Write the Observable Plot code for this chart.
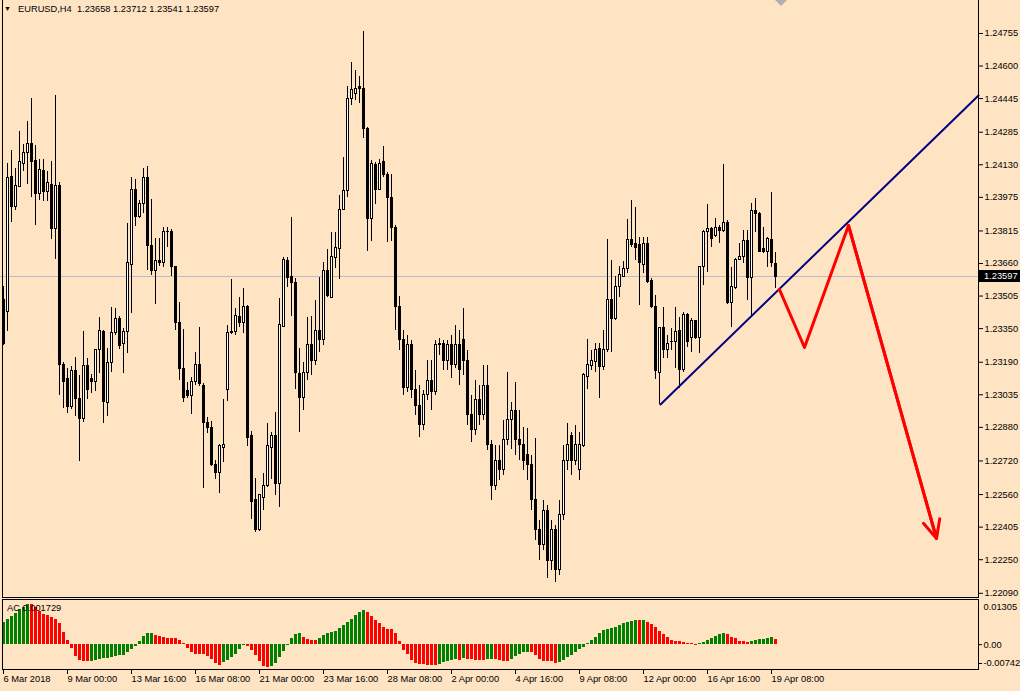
<!DOCTYPE html>
<html><head><meta charset="utf-8">
<script src="https://cdn.jsdelivr.net/npm/d3@7"></script>
<script src="https://cdn.jsdelivr.net/npm/@observablehq/plot@0.6"></script>
<style>
html,body{margin:0;padding:0;background:#FFE4C4;}
#wrap{position:relative;width:1020px;height:691px;overflow:hidden;background:#FFE4C4;font-family:"Liberation Sans",Arial,sans-serif;}
#main,#ind{position:absolute;left:0;}
#main{top:0px}
#ind{top:599px}
.lbl{position:absolute;font-size:9.3px;color:#000;white-space:pre;line-height:10px;}
</style></head><body>
<div id="wrap"><div id="main"></div><div id="ind"></div></div>
<script>
// ---------- tick labels ----------
const xTickIdx = [0,16,32,48,64,80,96,112,128,144,160,176,192];
const xTickLabels = ["6 Mar 2018","9 Mar 00:00","13 Mar 16:00","16 Mar 08:00","21 Mar 00:00","23 Mar 16:00","28 Mar 08:00","2 Apr 00:00","4 Apr 16:00","9 Apr 08:00","12 Apr 00:00","16 Apr 16:00","19 Apr 08:00"];
const priceTicks = [1.24755,1.24600,1.24445,1.24285,1.24130,1.23975,1.23815,1.23660,1.23505,1.23350,1.23190,1.23035,1.22880,1.22720,1.22560,1.22405,1.22250,1.22090];
const acTicks = [0.01305, 0, -0.00742];
const symbolName = "EURUSD,H4";
const acName = "AC";
const acCurrent = 0.001729;

// ---------- candles (H4 bars, index 0 = 6 Mar 2018 08:00) ----------
const open = [1.23484,1.23427,1.24074,1.23927,1.24022,1.24136,1.24184,1.24231,1.24146,1.23993,
1.24098,1.23998,1.24036,1.23822,1.24027,1.23179,1.23108,1.22975,1.23146,1.23013,
1.22922,1.23170,1.23108,1.23098,1.23246,1.23336,1.22998,1.23184,1.23327,1.23398,
1.23275,1.23332,1.23655,1.24012,1.23879,1.23941,1.24069,1.23741,1.23622,1.23670,
1.23660,1.23808,1.23808,1.23641,1.23379,1.23156,1.23051,1.23027,1.23098,1.23175,
1.23079,1.22903,1.22875,1.22703,1.22661,1.22784,1.23056,1.23327,1.23332,1.23403,
1.23375,1.23455,1.22837,1.22532,1.22389,1.22546,1.22599,1.22784,1.22841,1.22608,
1.23360,1.23674,1.23598,1.23565,1.23132,1.23018,1.23141,1.23270,1.23198,1.23341,
1.23294,1.23622,1.23498,1.23684,1.23727,1.23917,1.24003,1.24441,1.24469,1.24498,
1.24493,1.24298,1.23870,1.24131,1.24012,1.24141,1.24079,1.23970,1.23831,1.23455,
1.23294,1.23065,1.23270,1.23056,1.22984,1.22889,1.23032,1.23103,1.23046,1.23270,
1.23279,1.23198,1.23270,1.23175,1.23270,1.23294,1.23198,1.22937,1.22865,1.23008,
1.22937,1.23079,1.22794,1.22603,1.22722,1.22675,1.22818,1.22913,1.22960,1.22818,
1.22794,1.22746,1.22699,1.22532,1.22389,1.22318,1.22484,1.22246,1.22389,1.22199,
1.22461,1.22722,1.22841,1.22722,1.22675,1.22789,1.23122,1.23170,1.23189,1.23251,
1.23165,1.23246,1.23484,1.23398,1.23546,1.23598,1.23632,1.23770,1.23751,1.23746,
1.23655,1.23755,1.23579,1.23451,1.23141,1.23351,1.23246,1.23284,1.23284,1.23341,
1.23151,1.23413,1.23303,1.23384,1.23303,1.23641,1.23808,1.23822,1.23793,1.23831,
1.23817,1.23855,1.23474,1.23541,1.23679,1.23693,1.23765,1.23589,1.23912,1.23898,
1.23727,1.23717,1.23774,1.23658];
const high = [1.23551,1.24136,1.24198,1.24112,1.24288,1.24227,1.24336,1.24446,1.24222,1.24155,
1.24155,1.24098,1.24146,1.24460,1.24046,1.23189,1.23160,1.23170,1.23213,1.23127,
1.23336,1.23208,1.23132,1.23251,1.23403,1.23340,1.23256,1.23451,1.23446,1.23408,
1.23351,1.23851,1.24069,1.24060,1.23960,1.24112,1.24122,1.23965,1.23779,1.23779,
1.23831,1.23831,1.23822,1.23645,1.23474,1.23346,1.23094,1.23117,1.23236,1.23355,
1.23089,1.22927,1.22908,1.22722,1.22799,1.23013,1.23365,1.23584,1.23446,1.23498,
1.23541,1.23460,1.22860,1.22637,1.22560,1.22661,1.22899,1.22856,1.22951,1.23494,
1.23689,1.23689,1.23879,1.23589,1.23256,1.23189,1.23403,1.23408,1.23484,1.23593,
1.23665,1.23727,1.23808,1.23808,1.23984,1.24165,1.24503,1.24617,1.24579,1.24550,
1.24764,1.24307,1.24150,1.24141,1.24155,1.24217,1.24093,1.24084,1.23841,1.23503,
1.23341,1.23317,1.23294,1.23151,1.23079,1.23056,1.23198,1.23198,1.23294,1.23303,
1.23294,1.23294,1.23317,1.23365,1.23341,1.23446,1.23246,1.23032,1.23103,1.23079,
1.23175,1.23175,1.22818,1.22794,1.22794,1.22913,1.23141,1.22998,1.23094,1.22960,
1.22879,1.22875,1.22746,1.22827,1.22437,1.22532,1.22508,1.22437,1.22413,1.22532,
1.22794,1.22899,1.22856,1.22889,1.22856,1.23137,1.23298,1.23246,1.23279,1.23279,
1.23341,1.23774,1.23674,1.23598,1.23646,1.23670,1.23870,1.23960,1.23927,1.23784,
1.23784,1.23784,1.23589,1.23508,1.23355,1.23451,1.23317,1.23351,1.23451,1.23403,
1.23427,1.23422,1.23398,1.23389,1.23646,1.23817,1.23941,1.23831,1.23874,1.23841,
1.24131,1.23865,1.23641,1.23684,1.23755,1.23817,1.23817,1.23946,1.23970,1.23903,
1.23831,1.23784,1.23998,1.23712];
const low = [1.23270,1.23336,1.23855,1.23912,1.24022,1.24098,1.24036,1.23974,1.23841,1.23960,
1.23955,1.23955,1.23774,1.23679,1.23032,1.22970,1.22946,1.22965,1.22932,1.22718,
1.22903,1.23013,1.23041,1.23051,1.23137,1.22899,1.22932,1.23141,1.23317,1.23251,
1.23137,1.23232,1.23422,1.23836,1.23874,1.23898,1.23627,1.23603,1.23465,1.23646,
1.23641,1.23736,1.23598,1.23341,1.23103,1.22998,1.23018,1.22941,1.23079,1.23075,
1.22589,1.22851,1.22694,1.22632,1.22565,1.22713,1.23003,1.23322,1.23317,1.23355,
1.23327,1.22789,1.22442,1.22380,1.22385,1.22484,1.22594,1.22632,1.22556,1.22499,
1.23355,1.23546,1.23408,1.23060,1.22856,1.22960,1.23103,1.23127,1.23175,1.23236,
1.23270,1.23498,1.23494,1.23636,1.23584,1.23912,1.23974,1.24412,1.24436,1.24422,
1.24255,1.23717,1.23765,1.23941,1.24008,1.24069,1.23760,1.23765,1.23341,1.23246,
1.23032,1.23046,1.23018,1.22937,1.22832,1.22865,1.23008,1.22960,1.23032,1.23222,
1.23151,1.23151,1.23113,1.23160,1.23079,1.23127,1.22889,1.22808,1.22841,1.22889,
1.22913,1.22770,1.22532,1.22580,1.22627,1.22651,1.22794,1.22775,1.22746,1.22722,
1.22675,1.22627,1.22484,1.22342,1.22246,1.22294,1.22161,1.22199,1.22142,1.22175,
1.22437,1.22675,1.22651,1.22699,1.22627,1.22784,1.23060,1.23151,1.23141,1.23018,
1.23151,1.23236,1.23236,1.23389,1.23498,1.23593,1.23613,1.23736,1.23674,1.23460,
1.23613,1.23565,1.23446,1.23108,1.22989,1.23208,1.23208,1.23246,1.23160,1.23065,
1.23141,1.23260,1.23236,1.23298,1.23232,1.23555,1.23617,1.23736,1.23784,1.23755,
1.23808,1.23465,1.23355,1.23536,1.23674,1.23660,1.23484,1.23413,1.23808,1.23712,
1.23708,1.23641,1.23641,1.23541];
const close = [1.23279,1.24069,1.23927,1.24027,1.24141,1.24188,1.24231,1.24141,1.23993,1.24103,
1.23998,1.24041,1.23822,1.24027,1.23175,1.23094,1.22975,1.23146,1.23013,1.22922,
1.23170,1.23060,1.23094,1.23246,1.23341,1.23003,1.23184,1.23327,1.23394,1.23265,
1.23332,1.23660,1.24012,1.23879,1.23941,1.24069,1.23741,1.23622,1.23670,1.23660,
1.23812,1.23812,1.23641,1.23375,1.23156,1.23022,1.23027,1.23098,1.23175,1.23084,
1.22899,1.22875,1.22699,1.22661,1.22789,1.22794,1.23327,1.23336,1.23408,1.23375,
1.23455,1.22827,1.22527,1.22389,1.22556,1.22599,1.22789,1.22841,1.22608,1.23365,
1.23679,1.23593,1.23565,1.23137,1.23018,1.23141,1.23270,1.23198,1.23341,1.23294,
1.23622,1.23503,1.23689,1.23732,1.23917,1.24003,1.24441,1.24484,1.24493,1.24493,
1.24298,1.23870,1.24136,1.24012,1.24136,1.24079,1.23974,1.23831,1.23451,1.23294,
1.23065,1.23270,1.23056,1.22984,1.22889,1.23032,1.23103,1.23046,1.23270,1.23279,
1.23198,1.23270,1.23175,1.23270,1.23151,1.23198,1.22937,1.22865,1.23008,1.22937,
1.23079,1.22794,1.22603,1.22722,1.22675,1.22818,1.22913,1.22960,1.22818,1.22794,
1.22722,1.22699,1.22532,1.22389,1.22318,1.22484,1.22246,1.22389,1.22199,1.22461,
1.22722,1.22794,1.22722,1.22794,1.22794,1.23127,1.23175,1.23194,1.23246,1.23165,
1.23246,1.23484,1.23398,1.23546,1.23603,1.23636,1.23770,1.23746,1.23736,1.23660,
1.23755,1.23570,1.23451,1.23146,1.23351,1.23246,1.23279,1.23286,1.23332,1.23151,
1.23413,1.23284,1.23384,1.23303,1.23641,1.23812,1.23822,1.23779,1.23831,1.23817,
1.23851,1.23474,1.23546,1.23679,1.23693,1.23765,1.23589,1.23912,1.23898,1.23717,
1.23717,1.23779,1.23660,1.23597];

// ---------- Accelerator Oscillator ----------
const acValue = [0.00718,0.00805,0.00914,0.01001,0.01132,0.01219,0.01305,0.01290,0.01219,0.01088,
0.00979,0.00960,0.00892,0.00805,0.00675,0.00392,0.00131,-0.00109,-0.00370,-0.00522,
-0.00544,-0.00550,-0.00544,-0.00500,-0.00470,-0.00457,-0.00450,-0.00413,-0.00370,-0.00348,
-0.00340,-0.00261,-0.00152,-0.00065,0.00087,0.00261,0.00348,0.00370,0.00283,0.00261,
0.00218,0.00200,0.00196,0.00190,0.00131,0.00022,-0.00109,-0.00261,-0.00305,-0.00310,
-0.00315,-0.00370,-0.00479,-0.00609,-0.00675,-0.00588,-0.00500,-0.00413,-0.00305,-0.00152,
-0.00022,-0.00044,-0.00174,-0.00348,-0.00544,-0.00696,-0.00742,-0.00696,-0.00609,-0.00413,
-0.00218,-0.00022,0.00196,0.00326,0.00370,0.00239,0.00174,0.00131,0.00125,0.00196,
0.00283,0.00370,0.00392,0.00435,0.00522,0.00631,0.00718,0.00827,0.00957,0.01044,
0.01110,0.01044,0.00914,0.00783,0.00675,0.00566,0.00500,0.00479,0.00348,0.00087,
-0.00174,-0.00326,-0.00522,-0.00609,-0.00631,-0.00653,-0.00675,-0.00680,-0.00685,-0.00631,
-0.00566,-0.00544,-0.00500,-0.00479,-0.00500,-0.00457,-0.00479,-0.00485,-0.00500,-0.00505,
-0.00510,-0.00490,-0.00479,-0.00485,-0.00500,-0.00544,-0.00550,-0.00479,-0.00370,-0.00305,
-0.00261,-0.00255,-0.00261,-0.00348,-0.00479,-0.00544,-0.00550,-0.00555,-0.00609,-0.00566,
-0.00500,-0.00413,-0.00348,-0.00239,-0.00152,-0.00087,0.00022,0.00131,0.00239,0.00370,
0.00457,0.00479,0.00522,0.00566,0.00631,0.00696,0.00718,0.00762,0.00783,0.00780,
0.00785,0.00718,0.00653,0.00566,0.00435,0.00326,0.00239,0.00131,0.00109,0.00105,
0.00065,0.00033,0.00030,-0.00022,0.00033,0.00076,0.00131,0.00196,0.00261,0.00326,
0.00348,0.00326,0.00239,0.00196,0.00109,0.00087,0.00065,0.00098,0.00141,0.00163,
0.00168,0.00196,0.00228,0.00173];
const acUp = [1,1,1,1,1,1,1,0,0,0, 0,0,0,0,0,0,0,0,0,0,
0,0,1,1,1,1,1,1,1,1, 1,1,1,1,1,1,1,1,0,0,
0,0,0,0,0,0,0,0,0,0, 0,0,0,0,0,1,1,1,1,1,
1,0,0,0,0,0,0,1,1,1, 1,1,1,1,1,0,0,0,0,1,
1,1,1,1,1,1,1,1,1,1, 1,0,0,0,0,0,0,0,0,0,
0,0,0,0,0,0,0,0,0,1, 1,1,1,1,0,1,0,0,0,0,
0,1,1,0,0,0,0,1,1,1, 1,1,0,0,0,0,0,0,0,1,
1,1,1,1,1,1,1,1,1,1, 1,1,1,1,1,1,1,1,1,0,
1,0,0,0,0,0,0,0,0,0, 0,0,0,0,1,1,1,1,1,1,
1,0,0,0,0,0,0,1,1,1, 1,1,1,0];

// ---------- drawn objects (bar index, price) ----------
const trendIdx = [164.25, 243.75];
const trendPrice = [1.22989, 1.24460];
const zigIdx = [194, 200.25, 211.25, 233.25];
const zigPrice = [1.23536, 1.23260, 1.23841, 1.22351];
const shiftIdx = 194.5; // chart-shift marker position (bars)

// ---------- build ----------
const candles = open.map((o, i) => ({i, o, h: high[i], l: low[i], c: close[i]}));
const ac = acValue.map((v, i) => ({i, v, up: acUp[i]}));
const trend = trendIdx.map((i, k) => ({i, p: trendPrice[k]}));
const zig = zigIdx.map((i, k) => ({i, p: zigPrice[k]}));
const lastSeg = [{x1: zigIdx[2], y1: zigPrice[2], x2: zigIdx[3], y2: zigPrice[3]}];
const labelMap = new Map(xTickIdx.map((d, k) => [d, xTickLabels[k]]));
const lastClose = close[close.length - 1];

const xDomain = [-0.75, 243.75];
const baseStyle = {fontFamily: '"Liberation Sans", Arial, sans-serif', fontSize: "9.3px", background: "transparent", color: "#000", overflow: "visible"};

const main = Plot.plot({
  width: 1020, height: 600, marginLeft: 0, marginRight: 42, marginTop: 0, marginBottom: 3,
  x: {domain: xDomain, axis: null},
  y: {domain: [1.22070, 1.24912], axis: null},
  style: baseStyle,
  marks: [
    Plot.ruleY([lastClose], {stroke: "#b6bcc8", strokeWidth: 1, shapeRendering: "crispEdges"}),
    Plot.ruleX(candles, {x: "i", y1: "l", y2: "h", stroke: "#000", strokeWidth: 1, shapeRendering: "crispEdges"}),
    Plot.rect(candles, {
      x1: d => d.i - 0.25, x2: d => d.i + 0.25,
      y1: d => Math.min(d.o, d.c), y2: d => Math.max(d.o, d.c),
      fill: d => d.c >= d.o ? "#ffffff" : "#000000", stroke: "#000", strokeWidth: 1, shapeRendering: "crispEdges"
    }),
    Plot.line(trend, {x: "i", y: "p", stroke: "#000080", strokeWidth: 2}),
    Plot.line(zig, {x: "i", y: "p", stroke: "#ff0000", strokeWidth: 3}),
    Plot.arrow(lastSeg, {x1: "x1", y1: "y1", x2: "x2", y2: "y2", stroke: "#ff0000", strokeWidth: 3, headLength: 10, headAngle: 50}),
    Plot.frame({insetTop: -5, insetLeft: 2, stroke: "#000", shapeRendering: "crispEdges"}),
    Plot.axisY(priceTicks, {anchor: "right", label: null, tickSize: 4, tickPadding: 2, tickFormat: d => d.toFixed(5)})
  ]
});
document.getElementById("main").appendChild(main);

const ind = Plot.plot({
  width: 1020, height: 92, marginLeft: 0, marginRight: 42, marginTop: 5, marginBottom: 24,
  x: {domain: xDomain, axis: null},
  y: {domain: [acTicks[2], acTicks[0]], axis: null},
  style: baseStyle,
  marks: [
    Plot.rect(ac, {x1: d => d.i - 0.375, x2: d => d.i + 0.375, y1: () => 0, y2: "v", fill: d => d.up ? "#008000" : "#ff0000", shapeRendering: "crispEdges"}),
    Plot.frame({insetTop: -5, insetBottom: -2, insetLeft: 2, stroke: "#000", shapeRendering: "crispEdges"}),
    Plot.axisY([acTicks[0]], {anchor: "right", label: null, tickSize: 0, tickPadding: 5, tickFormat: d => d.toFixed(5), dy: 3}),
    Plot.axisY([acTicks[1]], {anchor: "right", label: null, tickSize: 3, tickPadding: 2, tickFormat: d => d.toFixed(2)}),
    Plot.axisY([acTicks[2]], {anchor: "right", label: null, tickSize: 3, tickPadding: 2, tickFormat: d => d.toFixed(5), dy: -4}),
    Plot.axisX(xTickIdx, {anchor: "bottom", label: null, tickSize: 4, tickPadding: 1, textAnchor: "start", tickFormat: d => labelMap.get(d), dy: 3})
  ]
});
document.getElementById("ind").appendChild(ind);

// ---------- overlays: header, indicator name, current price box, shift marker ----------
const wrap = document.getElementById("wrap");
function addLbl(txt, left, top, extra) {
  const el = document.createElement("div");
  el.className = "lbl";
  el.textContent = txt;
  el.style.left = left + "px";
  el.style.top = top + "px";
  if (extra) Object.assign(el.style, extra);
  wrap.appendChild(el);
  return el;
}
addLbl("\u25BC", 4, 4, {fontSize: "7px"});
addLbl(symbolName + "  " + [open[193], high[193], low[193], close[193]].map(v => v.toFixed(5)).join(" "), 18, 4);
addLbl(acName + " " + acCurrent.toFixed(6), 7, 603);
const yPix = main.scale("y").apply(lastClose);
addLbl(lastClose.toFixed(5), 979, Math.round(yPix) - 6, {background: "#000", color: "#fff", width: "41px", height: "12px", lineHeight: "12px", paddingLeft: "5px", boxSizing: "border-box"});
const xShift = main.scale("x").apply(shiftIdx);
addLbl("", Math.round(xShift) - 6, 0, {width: "0", height: "0", borderLeft: "6px solid transparent", borderRight: "6px solid transparent", borderTop: "6px solid #b0b0b0"});
</script>
</body></html>
